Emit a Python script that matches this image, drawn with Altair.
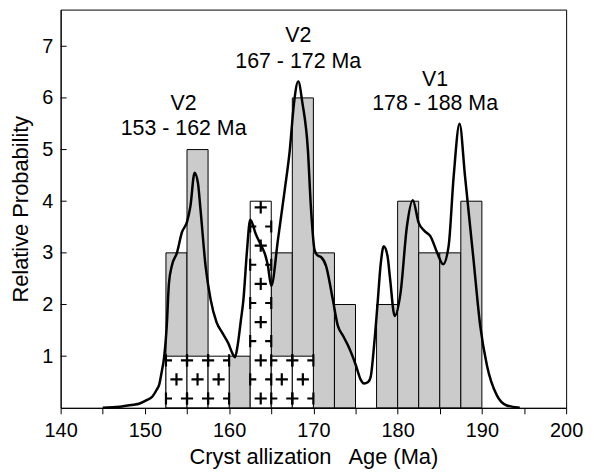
import altair as alt
import pandas as pd

# ---------------- data ----------------
BIN = 2.5
stipple_start = [152.5, 155.0, 160.0, 165.0, 167.5, 170.0, 172.5, 177.5, 180.0, 182.5, 185.0, 187.5]
stipple_count = [3, 5, 1, 3, 6, 3, 2, 2, 4, 3, 3, 4]

plus_start = [152.5, 155.0, 157.5, 162.5, 165.0, 167.5]
plus_count = [1, 1, 1, 4, 1, 1]

curve_age = [145.0, 147.0, 148.6, 149.3, 150.2, 150.9, 151.4, 151.7, 152.0, 152.3,
             152.6, 152.85, 153.2, 153.8, 154.4, 155.0, 155.4, 155.9, 156.3, 156.6,
             157.2, 157.8, 158.5, 159.2, 159.9, 160.4, 160.7, 161.0, 161.4, 161.7,
             162.1, 162.5, 162.8, 163.1, 163.85, 164.3, 164.6, 165.0, 165.8, 166.6,
             167.2, 167.7, 168.2, 168.7, 169.35, 169.7, 170.15, 170.5, 170.9, 171.5,
             172.3, 172.9, 173.5, 174.1, 175.05, 175.6, 176.0, 176.5, 176.8, 177.2,
             177.6, 178.0, 178.35, 178.8, 179.1, 179.65, 180.35, 181.1, 181.8, 182.5,
             183.2, 183.9, 184.7, 185.4, 186.05, 186.65, 187.35, 188.0, 189.0, 189.8,
             190.6, 191.75, 192.9, 194.5]
curve_prob = [0.0, 0.02, 0.06, 0.08, 0.15, 0.22, 0.35, 0.45, 0.7, 1.0,
              1.6, 2.4, 2.75, 3.0, 3.4, 3.6, 3.9, 4.55, 4.35, 3.84,
              2.75, 2.1, 1.66, 1.45, 1.25, 1.05, 0.98, 1.2, 1.7, 2.1,
              3.0, 3.64, 3.55, 3.39, 3.13, 2.95, 2.75, 2.36, 3.26, 4.22,
              4.99, 5.9, 6.32, 5.9, 4.99, 3.9, 3.05, 2.95, 2.92, 2.75,
              2.1, 1.59, 1.4, 1.21, 0.82, 0.55, 0.47, 0.5, 0.6, 1.2,
              1.98, 2.8, 3.13, 2.94, 2.5, 1.78, 2.23, 3.51, 4.02, 3.58,
              3.42, 3.32, 3.0, 2.78, 3.13, 4.48, 5.5, 4.48, 2.88, 1.59,
              0.82, 0.25, 0.05, 0.0]

label_text = ["V2", "153 - 162 Ma", "V2", "167 - 172 Ma", "V1", "178 - 188 Ma"]
label_age = [154.6, 154.6, 168.2, 168.2, 184.45, 184.45]
label_prob = [5.88, 5.40, 7.19, 6.69, 6.35, 5.88]

x_ticks = list(range(140, 201, 5))
y_ticks = [1, 2, 3, 4, 5, 6, 7]

# ---------------- tables ----------------
stipple_df = pd.DataFrame({"start": stipple_start,
                           "end": [s + BIN for s in stipple_start],
                           "count": stipple_count})
plus_df = pd.DataFrame({"start": plus_start,
                        "end": [s + BIN for s in plus_start],
                        "count": plus_count})
curve_df = pd.DataFrame({"age": curve_age, "prob": curve_prob})
label_df = pd.DataFrame({"text": label_text, "age": label_age, "prob": label_prob})
ytick_df = pd.DataFrame({"v": y_ticks})

# "+" fill pattern derived from the plus bars
PLUS = "M-1,0L1,0M0,-1L0,1"
HALF_R = "M0,-1L0,1M0,0L1,0"   # at left edge, arm points into bar
HALF_L = "M0,-1L0,1M0,0L-1,0"  # at right edge
STEP, FIRST = 0.37, 0.18
pat = []
for s, h in zip(plus_start, plus_count):
    center_first = h > 1
    k = 0
    y = FIRST
    while y < h:
        if (k % 2 == 0) == center_first:
            pat.append({"age": s + BIN / 2, "prob": y, "shape": PLUS})
        else:
            pat.append({"age": s, "prob": y, "shape": HALF_R})
            pat.append({"age": s + BIN, "prob": y, "shape": HALF_L})
        k += 1
        y = FIRST + k * STEP
pat_df = pd.DataFrame(pat)

FONT = "Liberation Sans"
xscale = alt.Scale(domain=[140, 200], nice=False, zero=False)
yscale = alt.Scale(domain=[0, 7.71], nice=False, zero=True)

xaxis = alt.Axis(values=x_ticks, labelExpr="datum.value % 10 == 0 ? datum.label : ''",
                 title="Cryst allization\u00a0\u00a0 Age (Ma)", grid=False, tickSize=6,
                 labelPadding=7, titlePadding=6, labelFontSize=20, titleFontSize=22,
                 labelFont=FONT, titleFont=FONT, titleFontWeight="normal",
                 labelColor="black", titleColor="black", domainColor="black",
                 tickColor="black", labelFlush=False)
yaxis = alt.Axis(values=y_ticks, format="d", title="Relative Probability", grid=False,
                 ticks=False, labelPadding=8, titlePadding=9, labelFontSize=20,
                 titleFontSize=22, labelFont=FONT, titleFont=FONT,
                 titleFontWeight="normal", labelColor="black", titleColor="black",
                 domainColor="black")

stipple = alt.Chart(stipple_df).mark_rect(fill="#cbcbcb", stroke="black", strokeWidth=1).encode(
    x=alt.X("start:Q", scale=xscale, axis=xaxis),
    x2="end:Q",
    y=alt.Y("count:Q", scale=yscale, axis=yaxis),
    y2=alt.datum(0),
)

plus_bars = alt.Chart(plus_df).mark_rect(fill="white", stroke="black", strokeWidth=1).encode(
    x=alt.X("start:Q", scale=xscale),
    x2="end:Q",
    y=alt.Y("count:Q", scale=yscale),
    y2=alt.datum(0),
)

pattern = alt.Chart(pat_df).mark_point(filled=False, stroke="black", strokeWidth=2.2,
                                       size=150, opacity=1).encode(
    x=alt.X("age:Q", scale=xscale),
    y=alt.Y("prob:Q", scale=yscale),
    shape=alt.Shape("shape:N", scale=None, legend=None),
)

curve = alt.Chart(curve_df).mark_line(color="black", strokeWidth=2.5,
                                      interpolate="monotone").encode(
    x=alt.X("age:Q", scale=xscale),
    y=alt.Y("prob:Q", scale=yscale),
)

yticks = alt.Chart(ytick_df).mark_rule(color="black", strokeWidth=1).encode(
    y=alt.Y("v:Q", scale=yscale),
    x=alt.value(0),
    x2=alt.value(6),
)

labels = alt.Chart(label_df).mark_text(fontSize=21.5, font=FONT, color="black",
                                       align="center", baseline="middle").encode(
    x=alt.X("age:Q", scale=xscale),
    y=alt.Y("prob:Q", scale=yscale),
    text="text:N",
)

chart = alt.layer(stipple, plus_bars, pattern, curve, yticks, labels).properties(
    width=509,
    height=401,
    autosize=alt.AutoSizeParams(type="none"),
    padding={"left": 53, "top": 0, "right": 20, "bottom": 60},
).configure_view(stroke="black", strokeWidth=1)

chart.save("out.html", embed_options={"renderer": "svg", "actions": False})
